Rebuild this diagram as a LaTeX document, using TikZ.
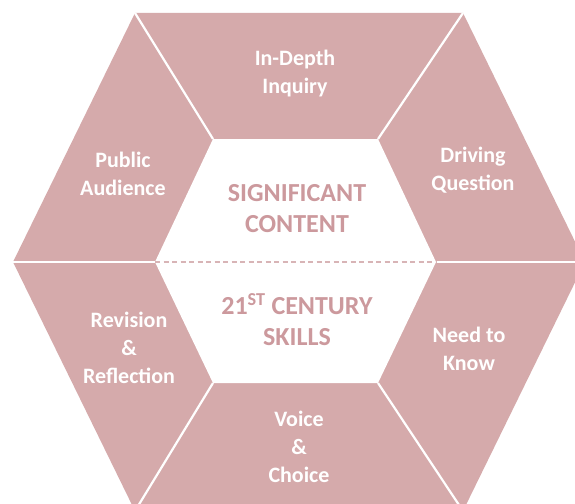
\documentclass[tikz,border=0pt]{standalone}
\usepackage{fontspec}
\setmainfont{Carlito}
\definecolor{hexpink}{RGB}{213,170,171}
\definecolor{corepink}{RGB}{204,153,157}
\definecolor{dashpink}{RGB}{216,180,182}
\begin{document}
\begin{tikzpicture}[x=1pt,y=-1pt,
  seg/.style={font=\fontsize{22}{28}\selectfont\bfseries, text=white, align=center, inner sep=0pt},
  core/.style={font=\fontsize{26}{31}\selectfont\bfseries, text=corepink, align=center, inner sep=0pt},
  sepline/.style={draw=white, line width=2.2pt},
  midline/.style={draw=dashpink, line width=1.1pt, dash pattern=on 5pt off 3.5pt}]
\useasboundingbox (0,0) rectangle (575,503);
\fill[white] (0,0) rectangle (575,503);
\clip (0,0) rectangle (575,503);
% outer hexagon
\coordinate (OL) at (13,262);
\coordinate (OTL) at (135,13);
\coordinate (OTR) at (463,13);
\coordinate (OR) at (585,262);
\coordinate (OBR) at (463,511);
\coordinate (OBL) at (135,511);
% inner hexagon
\coordinate (IL) at (155,262);
\coordinate (ITL) at (213,139);
\coordinate (ITR) at (378,139);
\coordinate (IR) at (436,262);
\coordinate (IBR) at (378,383);
\coordinate (IBL) at (213,383);
\fill[hexpink] (OL) -- (OTL) -- (OTR) -- (OR) -- (OBR) -- (OBL) -- cycle;
\fill[white] (IL) -- (ITL) -- (ITR) -- (IR) -- (IBR) -- (IBL) -- cycle;
\draw[sepline] (IL) -- (OL);
\draw[sepline] (ITL) -- (OTL);
\draw[sepline] (ITR) -- (OTR);
\draw[sepline] (IR) -- (OR);
\draw[sepline] (IBR) -- (OBR);
\draw[sepline] (IBL) -- (OBL);
\draw[midline] (IL) -- (IR);
% labels
\node[seg] (inq) at (295,74) {In-Depth\\Inquiry};
\node[seg] (pub) at (123,173.5) {Public\\Audience};
\node[seg] (drv) at (473,170) {Driving\\Question};
\node[seg] (rev) at (129,347.5) {Revision\\\&\\Reflection};
\node[seg] (ntk) at (469,348.5) {Need to\\Know};
\node[seg] (voc) at (299,447) {Voice\\\&\\Choice};
\node[core] (sig) at (297,208.5) {SIGNIFICANT\\CONTENT};
\node[core] (cen) at (297,320) {21\textsuperscript{ST} CENTURY\\SKILLS};
\end{tikzpicture}
\end{document}
